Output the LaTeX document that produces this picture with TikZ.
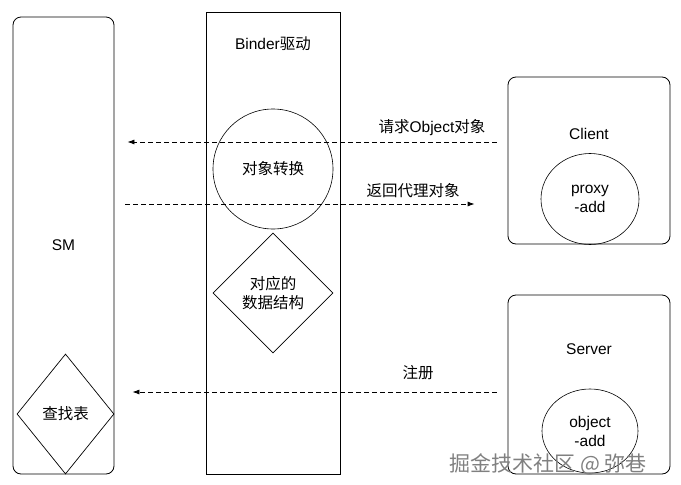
\documentclass[tikz,border=0pt]{standalone}
\usepackage{fontspec}
\setmainfont{Liberation Sans}
\newfontfamily\cjk{Noto Sans CJK SC}
\usetikzlibrary{arrows.meta,positioning,calc,shapes.geometric}
\tikzset{
  >={Latex[length=7pt,width=5pt]},
  lane/.style={draw,line width=0.8pt,inner sep=0pt,align=center},
  part/.style={draw,line width=0.8pt,rounded corners=8pt,inner sep=0pt},
  blob/.style={draw,ellipse,line width=0.6pt,inner sep=0pt,align=center},
  table/.style={draw,diamond,line width=0.7pt,inner sep=0pt,align=center},
  msg/.style={->,dashed,dash pattern=on 5pt off 3pt,line width=0.8pt},
}

\begin{document}
\begin{tikzpicture}[x=1pt,y=-1pt,font=\fontsize{15.5pt}{19pt}\selectfont]
		\useasboundingbox (0,0) rectangle (681,485);
		% left: service manager
		\node[part,minimum width=101pt,minimum height=457pt] (sm) at (63.5,245.5) {SM};
		\node[table,minimum width=97pt,minimum height=120pt] (lookup) at (65.5,414) {\cjk 查找表};
		% middle: binder driver
		\node[lane,minimum width=134pt,minimum height=462pt] (binder) at (273,243) {};
		\node[below=22pt of binder.north] (binderlbl) {Binder\cjk 驱动};
		\node[blob,minimum width=120pt,minimum height=120pt] (conv) at (273,169) {\cjk 对象转换};
		\node[table,minimum width=120pt,minimum height=120pt] (ds) at (273,293) {\cjk 对应的\\\cjk 数据结构};
		% right: client and server
		\node[part,minimum width=162pt,minimum height=167pt] (client) at (589,160.5) {};
		\node (clientlbl) at (589,134) {Client};
		\node[blob,minimum width=98pt,minimum height=91pt] (proxy) at (590,199) {proxy\\-add};
		\node[part,minimum width=162pt,minimum height=179pt] (server) at (589,384.5) {};
		\node (serverlbl) at (589,349) {Server};
		\node[blob,minimum width=96pt,minimum height=84pt] (obj) at (590,431) {object\\-add};
		% messages
		\coordinate (req) at (0,142);
		\coordinate (ret) at (0,204);
		\coordinate (reg) at (0,392);
		\draw[msg,shorten <=11pt,shorten >=13pt] (client.west |- req) -- (sm.east |- req);
		\draw[msg,shorten <=11pt,shorten >=33pt] (sm.east |- ret) -- (client.west |- ret);
		\draw[msg,shorten <=11pt,shorten >=18pt] (server.west |- reg) -- (sm.east |- reg);
		\node (reqlbl) at (432,128) {\cjk 请求\rmfamily Object\cjk 对象};
		\node (retlbl) at (413,191) {\cjk 返回代理对象};
		\node (reglbl) at (418,373) {\cjk 注册};
		% watermark
		\node[text=black!50,font=\fontsize{21pt}{24pt}\selectfont] (mark) at (548,464) {\cjk 掘金技术社区 @ 弥巷};
	\end{tikzpicture}
\end{document}
